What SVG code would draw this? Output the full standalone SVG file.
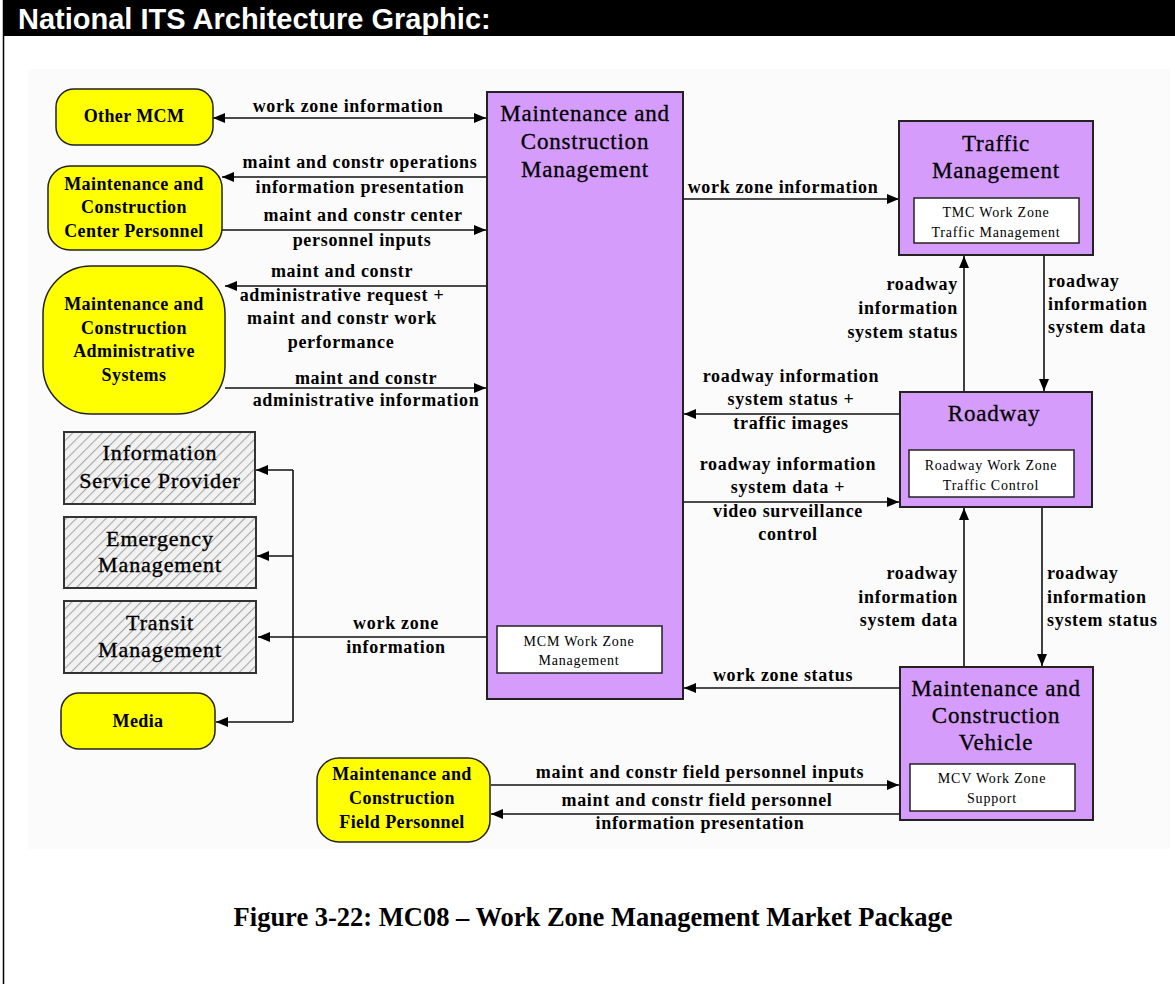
<svg xmlns="http://www.w3.org/2000/svg" width="1175" height="984" viewBox="0 0 1175 984">
  <style>
    .lbl { font-family: "Liberation Serif", "Times New Roman", serif; font-weight: bold; font-size: 18px; letter-spacing: 0.7px; fill: #000; }
    .mid { text-anchor: middle; }
    .end { text-anchor: end; }
    .term { fill: #ffff00; stroke: #222; stroke-width: 1.5; }
    .ntxt { font-family: "Liberation Serif", "Times New Roman", serif; font-weight: bold; font-size: 18px; letter-spacing: 0.4px; text-anchor: middle; fill: #000; }
    .sys { fill: #d69cfc; stroke: #222; stroke-width: 2; }
    .stxt { font-family: "Liberation Serif", "Times New Roman", serif; font-size: 23px; letter-spacing: 0.8px; text-anchor: middle; fill: #000; stroke: #000; stroke-width: 0.3px; }
    .hatch { fill: url(#hatch); stroke: #333; stroke-width: 2; }
    .htxt { font-family: "Liberation Serif", "Times New Roman", serif; font-size: 22px; letter-spacing: 0.9px; text-anchor: middle; fill: #000; stroke: #000; stroke-width: 0.35px; }
    .inner { fill: #fff; stroke: #222; stroke-width: 1.5; }
    .itxt { font-family: "Liberation Serif", "Times New Roman", serif; font-size: 14px; letter-spacing: 0.8px; text-anchor: middle; fill: #000; }
    .flow { fill: none; stroke: #111; stroke-width: 1.6; }
    .arr { marker-end: url(#ah); }
    .both { marker-start: url(#ah); marker-end: url(#ah); }
  </style>
  <defs>
    <marker id="ah" viewBox="0 0 12 10" refX="12" refY="5" markerWidth="12" markerHeight="10" markerUnits="userSpaceOnUse" orient="auto-start-reverse">
      <path d="M0,0 L12,5 L0,10 z" fill="#000"/>
    </marker>
    <pattern id="hatch" patternUnits="userSpaceOnUse" width="7" height="7" patternTransform="rotate(45)">
      <rect width="7" height="7" fill="#f2f2f2"/>
      <line x1="0" y1="0" x2="0" y2="7" stroke="#a8a8a8" stroke-width="2.2"/>
    </pattern>
  </defs>

  <!-- page frame and heading -->
  <rect x="0" y="0" width="1175" height="984" fill="#fff"/>
  <line x1="3.5" y1="0" x2="3.5" y2="984" stroke="#000" stroke-width="1.5"/>
  <rect x="4" y="0" width="1171" height="36" fill="#000"/>
  <text x="18" y="29" font-family="Liberation Sans, Arial, sans-serif" font-weight="bold" font-size="29px" fill="#fff">National ITS Architecture Graphic:</text>

  <!-- drawing area -->
  <rect x="28" y="69" width="1142" height="780" fill="#fbfbfb"/>

  <!-- connectors -->
  <g id="connectors">
    <line class="flow both" x1="213" y1="118" x2="486" y2="118"/>
    <line class="flow arr" x1="486" y1="177" x2="222" y2="177"/>
    <line class="flow arr" x1="222" y1="230" x2="486" y2="230"/>
    <line class="flow arr" x1="486" y1="286" x2="225" y2="286"/>
    <line class="flow arr" x1="225" y1="388" x2="486" y2="388"/>
    <!-- fan-out to information users -->
    <line class="flow arr" x1="487" y1="637" x2="258" y2="637"/>
    <polyline class="flow" points="293,470 293,722"/>
    <line class="flow arr" x1="293" y1="470" x2="256" y2="470"/>
    <line class="flow arr" x1="293" y1="556" x2="257" y2="556"/>
    <line class="flow arr" x1="293" y1="722" x2="216" y2="722"/>
    <!-- right side flows -->
    <line class="flow arr" x1="684" y1="199" x2="899" y2="199"/>
    <line class="flow arr" x1="964" y1="391" x2="964" y2="256"/>
    <line class="flow arr" x1="1044" y1="256" x2="1044" y2="391"/>
    <line class="flow arr" x1="899" y1="414" x2="684" y2="414"/>
    <line class="flow arr" x1="684" y1="502" x2="899" y2="502"/>
    <line class="flow arr" x1="964" y1="666" x2="964" y2="508"/>
    <line class="flow arr" x1="1042" y1="508" x2="1042" y2="666"/>
    <line class="flow arr" x1="899" y1="688" x2="684" y2="688"/>
    <line class="flow arr" x1="491" y1="785" x2="899" y2="785"/>
    <line class="flow arr" x1="899" y1="814" x2="491" y2="814"/>

    <!-- flow labels -->
    <text class="lbl mid" x="348" y="112">work zone information</text>
    <text class="lbl mid" x="360" y="168">maint and constr operations</text>
    <text class="lbl mid" x="360" y="193">information presentation</text>
    <text class="lbl mid" x="363" y="221">maint and constr center</text>
    <text class="lbl mid" x="362" y="246">personnel inputs</text>
    <text class="lbl mid" x="342" y="277">maint and constr</text>
    <text class="lbl mid" x="342" y="301">administrative request +</text>
    <text class="lbl mid" x="342" y="324">maint and constr work</text>
    <text class="lbl mid" x="341" y="348">performance</text>
    <text class="lbl mid" x="366" y="384">maint and constr</text>
    <text class="lbl mid" x="366" y="406">administrative information</text>
    <text class="lbl mid" x="396" y="629">work zone</text>
    <text class="lbl mid" x="396" y="653">information</text>
    <text class="lbl mid" x="783" y="193">work zone information</text>
    <text class="lbl end" x="958" y="290">roadway</text>
    <text class="lbl end" x="958" y="314">information</text>
    <text class="lbl end" x="958" y="338">system status</text>
    <text class="lbl" x="1048" y="287">roadway</text>
    <text class="lbl" x="1048" y="310">information</text>
    <text class="lbl" x="1048" y="333">system data</text>
    <text class="lbl mid" x="791" y="382">roadway information</text>
    <text class="lbl mid" x="791" y="405">system status +</text>
    <text class="lbl mid" x="791" y="429">traffic images</text>
    <text class="lbl mid" x="788" y="470">roadway information</text>
    <text class="lbl mid" x="788" y="493">system data +</text>
    <text class="lbl mid" x="788" y="517">video surveillance</text>
    <text class="lbl mid" x="788" y="540">control</text>
    <text class="lbl end" x="958" y="579">roadway</text>
    <text class="lbl end" x="958" y="603">information</text>
    <text class="lbl end" x="958" y="626">system data</text>
    <text class="lbl" x="1047" y="579">roadway</text>
    <text class="lbl" x="1047" y="603">information</text>
    <text class="lbl" x="1047" y="626">system status</text>
    <text class="lbl mid" x="783" y="681">work zone status</text>
    <text class="lbl mid" x="700" y="778">maint and constr field personnel inputs</text>
    <text class="lbl mid" x="697" y="806">maint and constr field personnel</text>
    <text class="lbl mid" x="700" y="829">information presentation</text>
  </g>

  <!-- terminators -->
  <g id="other-mcm">
    <rect class="term" x="56" y="89" width="157" height="56" rx="18"/>
    <text class="ntxt" x="134" y="122">Other MCM</text>
  </g>
  <g id="mc-center-personnel">
    <rect class="term" x="48" y="166" width="174" height="84" rx="22"/>
    <text class="ntxt" x="134" y="190">Maintenance and</text>
    <text class="ntxt" x="134" y="213">Construction</text>
    <text class="ntxt" x="134" y="237">Center Personnel</text>
  </g>
  <g id="mc-admin-systems">
    <rect class="term" x="43" y="266" width="182" height="148" rx="48"/>
    <text class="ntxt" x="134" y="310">Maintenance and</text>
    <text class="ntxt" x="134" y="334">Construction</text>
    <text class="ntxt" x="134" y="357">Administrative</text>
    <text class="ntxt" x="134" y="381">Systems</text>
  </g>
  <g id="info-service-provider">
    <rect class="hatch" x="64" y="432" width="191" height="72"/>
    <text class="htxt" x="160" y="460">Information</text>
    <text class="htxt" x="160" y="488">Service Provider</text>
  </g>
  <g id="emergency-management">
    <rect class="hatch" x="64" y="517" width="192" height="71"/>
    <text class="htxt" x="160" y="546">Emergency</text>
    <text class="htxt" x="160" y="572">Management</text>
  </g>
  <g id="transit-management">
    <rect class="hatch" x="64" y="601" width="192" height="72"/>
    <text class="htxt" x="160" y="630">Transit</text>
    <text class="htxt" x="160" y="657">Management</text>
  </g>
  <g id="media">
    <rect class="term" x="61" y="693" width="154" height="56" rx="18"/>
    <text class="ntxt" x="138" y="727">Media</text>
  </g>
  <g id="mc-field-personnel">
    <rect class="term" x="317" y="758" width="173" height="84" rx="22"/>
    <text class="ntxt" x="402" y="780">Maintenance and</text>
    <text class="ntxt" x="402" y="804">Construction</text>
    <text class="ntxt" x="402" y="828">Field Personnel</text>
  </g>

  <!-- subsystems -->
  <g id="mcm">
    <rect class="sys" x="487" y="92" width="196" height="607"/>
    <text class="stxt" x="585" y="121">Maintenance and</text>
    <text class="stxt" x="585" y="149">Construction</text>
    <text class="stxt" x="585" y="177">Management</text>
    <rect class="inner" x="497" y="626" width="165" height="47"/>
    <text class="itxt" x="579" y="646">MCM Work  Zone</text>
    <text class="itxt" x="579" y="665">Management</text>
  </g>
  <g id="traffic-management">
    <rect class="sys" x="899" y="121" width="194" height="134"/>
    <text class="stxt" x="996" y="151">Traffic</text>
    <text class="stxt" x="996" y="178">Management</text>
    <rect class="inner" x="914" y="198" width="165" height="45"/>
    <text class="itxt" x="996" y="217">TMC Work  Zone</text>
    <text class="itxt" x="996" y="237">Traffic  Management</text>
  </g>
  <g id="roadway">
    <rect class="sys" x="900" y="392" width="192" height="115"/>
    <text class="stxt" x="994" y="421">Roadway</text>
    <rect class="inner" x="909" y="450" width="165" height="47"/>
    <text class="itxt" x="991" y="470">Roadway Work  Zone</text>
    <text class="itxt" x="991" y="490">Traffic  Control</text>
  </g>
  <g id="mc-vehicle">
    <rect class="sys" x="900" y="667" width="193" height="153"/>
    <text class="stxt" x="996" y="696">Maintenance and</text>
    <text class="stxt" x="996" y="723">Construction</text>
    <text class="stxt" x="996" y="750">Vehicle</text>
    <rect class="inner" x="910" y="764" width="165" height="47"/>
    <text class="itxt" x="992" y="783">MCV Work  Zone</text>
    <text class="itxt" x="992" y="803">Support</text>
  </g>

  <!-- caption -->
  <text x="593" y="926" font-family="Liberation Serif, Times New Roman, serif" font-weight="bold" font-size="26.5px" text-anchor="middle">Figure 3-22: MC08 – Work Zone Management Market Package</text>
</svg>
